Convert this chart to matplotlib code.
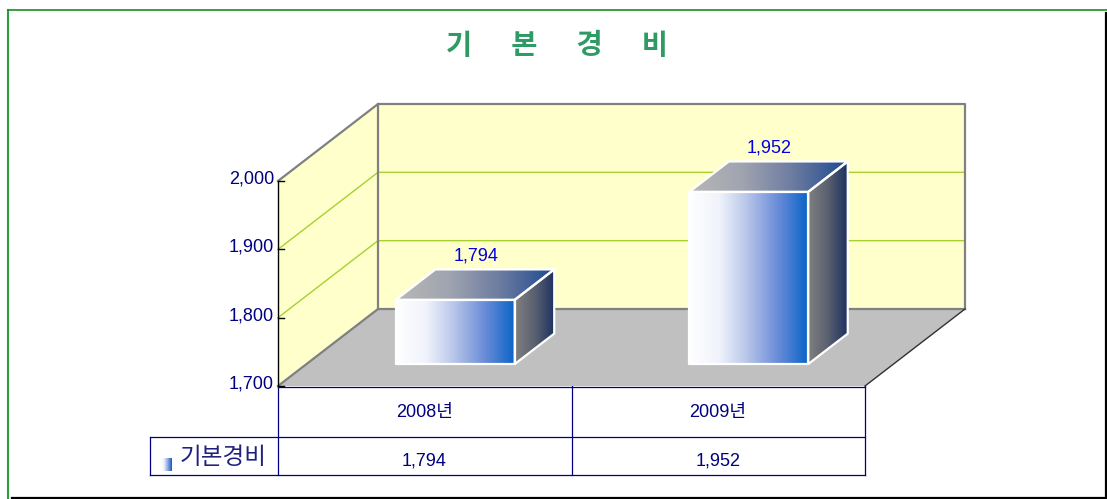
import numpy as np
import matplotlib
matplotlib.use('Agg')
import matplotlib.pyplot as plt
from matplotlib.colors import LinearSegmentedColormap
from matplotlib.patches import Polygon

categories = ['2008년', '2009년']
series_name = '기본경비'
values = [1794, 1952]
value_labels = ['1,794', '1,952']
y_ticks = [1700, 1800, 1900, 2000]
y_tick_labels = ['1,700', '1,800', '1,900', '2,000']
chart_title = '기      본      경      비'

FONT = ['Liberation Sans', 'Noto Sans CJK KR', 'DejaVu Sans']
KFONT = ['Noto Sans CJK KR', 'DejaVu Sans']
NAVY = '#000080'

W, H = 1107, 499
fig = plt.figure(figsize=(W / 100, H / 100), dpi=100)

# page layer in pixel coords, for frame, title and table
page = fig.add_axes([0, 0, 1, 1])
page.set_xlim(0, W)
page.set_ylim(H, 0)
page.axis('off')

# chart axes sits on the front plane of the 3d box
left, right, bottom, top = 278, 865, 386, 181
ax = fig.add_axes([left / W, 1 - bottom / H, (right - left) / W, (bottom - top) / H])
ax.patch.set_alpha(0)
for s in ax.spines.values():
    s.set_visible(False)
ax.set_xticks([])
ax.set_yticks([])

DX = 100 / ((right - left) / 2)
DY = 77 / ((bottom - top) / 300)


def pt(cat, val, depth=0.0):
    return (cat + depth * DX, val + depth * DY)


def poly(points, **kw):
    p = Polygon(points, closed=True, clip_on=False, **kw)
    ax.add_patch(p)
    return p


def gradient(points, cmap, z):
    # horizontal gradient clipped to the face
    xs = [p[0] for p in points]
    ys = [p[1] for p in points]
    clip = poly(points, facecolor='none', edgecolor='none')
    im = ax.imshow(np.linspace(0, 1, 128).reshape(1, -1), cmap=cmap, aspect='auto',
                   extent=(min(xs), max(xs), min(ys), max(ys)), zorder=z, interpolation='bilinear')
    im.set_clip_path(clip)
    # images get cut to the axes box otherwise, and the roofs stick out of it
    im.set_clip_box(fig.bbox)
    return im


# walls and floor
ymin, ymax = y_ticks[0], y_ticks[-1]
poly([pt(0, ymin), pt(0, ymax), pt(0, ymax, 1), pt(0, ymin, 1)], facecolor='#ffffcc', edgecolor='none', zorder=1)
poly([pt(0, ymin, 1), pt(0, ymax, 1), pt(2, ymax, 1), pt(2, ymin, 1)], facecolor='#ffffcc', edgecolor='none', zorder=1)
poly([pt(0, ymin), pt(2, ymin), pt(2, ymin, 1), pt(0, ymin, 1)], facecolor='#c0c0c0', edgecolor='none', zorder=1)

for t in y_ticks[1:-1]:
    ax.plot(*zip(pt(0, t), pt(0, t, 1), pt(2, t, 1)), color='#a8d030', lw=1, clip_on=False, zorder=2)

edge = dict(color='#808080', lw=1.6, clip_on=False, zorder=3)
ax.plot(*zip(pt(0, ymax), pt(0, ymax, 1), pt(2, ymax, 1), pt(2, ymin, 1)), **edge)
ax.plot(*zip(pt(0, ymax, 1), pt(0, ymin, 1), pt(2, ymin, 1)), **edge)
ax.plot(*zip(pt(0, ymin), pt(0, ymin, 1)), **edge)
ax.plot(*zip(pt(2, ymin, 1), pt(2, ymin)), color='#303030', lw=1, clip_on=False, zorder=3)

# y axis line and ticks
ax.plot(*zip(pt(0, ymin), pt(0, ymax)), color='black', lw=1, clip_on=False, zorder=4)
for t, lab in zip(y_ticks, y_tick_labels):
    ax.plot(*zip(pt(0, t), pt(0.02, t)), color='black', lw=1, clip_on=False, zorder=4)
    ax.annotate(lab, xy=pt(0, t), xytext=(-4, 2), textcoords='offset pixels', ha='right', va='center',
                fontsize=13, color=NAVY, family=FONT, annotation_clip=False)

# bars
front_cmap = LinearSegmentedColormap.from_list('front', ['#ffffff', '#f0f3fb', '#b4c3e8', '#6a8cd8', '#0a64c8'])
top_cmap = LinearSegmentedColormap.from_list('top', ['#b8b8b8', '#a0a4b0', '#6a7aa0', '#1e4a90'])
side_cmap = LinearSegmentedColormap.from_list('side', ['#808080', '#5a6070', '#1c3060'])
bar_w = 0.405
d0, d1 = 0.285, 0.68

for i, v in enumerate(values):
    c0, c1 = i + 0.507 - bar_w / 2, i + 0.507 + bar_w / 2
    front = [pt(c0, ymin, d0), pt(c1, ymin, d0), pt(c1, v, d0), pt(c0, v, d0)]
    side = [pt(c1, ymin, d0), pt(c1, ymin, d1), pt(c1, v, d1), pt(c1, v, d0)]
    roof = [pt(c0, v, d0), pt(c1, v, d0), pt(c1, v, d1), pt(c0, v, d1)]
    gradient(front, front_cmap, 5)
    gradient(side, side_cmap, 5)
    gradient(roof, top_cmap, 5)
    for face in (front, side, roof):
        poly(face, facecolor='none', edgecolor='white', lw=1.6, joinstyle='round', zorder=6)
    lx, ly = pt(i + 0.507, v, d1)
    ax.annotate(value_labels[i], xy=(lx, ly), xytext=(-19, 5), textcoords='offset pixels', ha='center', va='bottom',
                fontsize=13, color='#0000e0', family=FONT, annotation_clip=False, zorder=7)

ax.set_xlim(0, 2)
ax.set_ylim(ymin, ymax)

# frame: green top and left, black right and bottom
page.plot([8, 8], [10, 499], color='#2e9b3c', lw=1.5)
page.plot([8, 1107], [9.5, 9.5], color='#1f8a22', lw=1.2)
page.plot([1106, 1106], [13, 498], color='black', lw=1.6)
page.plot([12, 1107], [498, 498], color='black', lw=1.6)

# title
page.text(557, 46, chart_title, ha='center', va='center', fontsize=20.5, fontweight='bold',
          color='#2e9b64', family=KFONT)

# data table
page.plot([278, 278], [386, 475], color=NAVY, lw=0.9)
page.plot([571.5, 571.5], [386, 475], color=NAVY, lw=0.9)
page.plot([865, 865], [386, 475], color=NAVY, lw=0.9)
page.plot([278, 865], [387, 387], color=NAVY, lw=0.9)
page.plot([150, 865], [437, 437], color=NAVY, lw=0.9)
page.plot([150, 865], [475, 475], color=NAVY, lw=0.9)
page.plot([150, 150], [437, 475], color=NAVY, lw=0.9)

for i, (cat, lab) in enumerate(zip(categories, value_labels)):
    x = 424.5 + i * 293.5
    page.text(x, 413, cat, ha='center', va='center', fontsize=13, color=NAVY, family=FONT)
    page.text(x, 461, lab, ha='center', va='center', fontsize=13, color=NAVY, family=FONT)

page.text(223, 457, series_name, ha='center', va='center', fontsize=17, color='#202080', family=KFONT)
page.imshow(np.linspace(0, 1, 32).reshape(1, -1), cmap=front_cmap, aspect='auto', extent=(161, 172, 471, 458), zorder=3)
page.set_xlim(0, W)
page.set_ylim(H, 0)

fig.savefig('out.png', dpi=100)
